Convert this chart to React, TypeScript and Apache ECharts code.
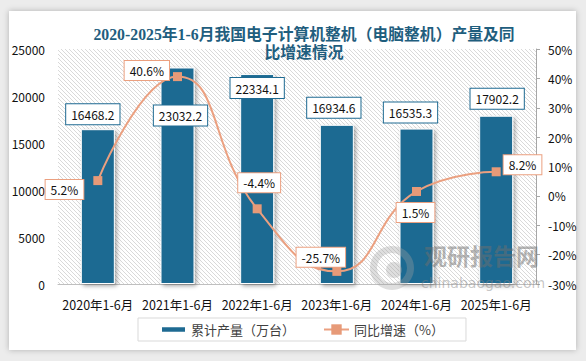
import React, { useEffect, useRef } from "react";
import * as echarts from "echarts";

const categories = ["2020年1-6月", "2021年1-6月", "2022年1-6月", "2023年1-6月", "2024年1-6月", "2025年1-6月"];
const outputValues = [16468.2, 23032.2, 22334.1, 16934.6, 16535.3, 17902.2];
const growthValues = [5.2, 40.6, -4.4, -25.7, 1.5, 8.2];
const leftTicks = { min: 0, max: 25000, interval: 5000 };
const rightTicks = { min: -30, max: 50, interval: 10 };
const seriesNames = ["累计产量（万台）", "同比增速（%）"];
const titleText = "2020-2025年1-6月我国电子计算机整机（电脑整机）产量及同\n比增速情况";

const BAR = "#1E6A92";
const LINE = "#EBA080";
const MARK = "#E79A78";
const FONT = '"Noto Sans CJK SC", "Noto Sans", sans-serif';

// label placement tweaks (style only)
const barLabelPos: any[] = [
  { position: "top", distance: 5, offset: [-5, 0] },
  { position: "insideTop", distance: 38, offset: [3, 0] },
  { position: "insideTop", distance: 4, offset: [0, 0] },
  { position: "top", distance: 7, offset: [-3, 0] },
  { position: "top", distance: 6, offset: [-6, 0] },
  { position: "top", distance: 7, offset: [1, 0] },
];
const lineLabelPos: any[] = [
  { position: "left", distance: 10, offset: [0, 9] },
  { position: "left", distance: 4, offset: [0, -6] },
  { position: "top", distance: 12, offset: [2, 0] },
  { position: "top", distance: 0, offset: [-16, 0] },
  { position: "bottom", distance: 7, offset: [-1, 0] },
  { position: "right", distance: 3, offset: [0, -7] },
];

const hatchSvg =
  "<svg xmlns='http://www.w3.org/2000/svg' width='4' height='4'><path d='M-1,-1 L5,5 M-1,3 L1,5 M3,-1 L5,1' stroke='#cfcfcf' stroke-width='0.8'/></svg>";
const hatchUrl = "data:image/svg+xml;charset=utf-8," + encodeURIComponent(hatchSvg);

export default function App() {
  const ref = useRef<HTMLDivElement>(null);
  useEffect(() => {
    if (!ref.current) return;
    const chart = echarts.init(ref.current, undefined, { renderer: "svg" });
    const option: any = {
      animation: false,
      backgroundColor: "transparent",
      title: {
        text: titleText,
        left: 299,
        textAlign: "center",
        top: 20,
        textStyle: {
          fontSize: 15.8,
          fontWeight: "bold",
          color: "#1F5E7E",
          lineHeight: 18,
          fontFamily: '"Liberation Serif", "Noto Sans CJK SC", serif',
        },
      },
      grid: {
        left: 58,
        right: 50,
        top: 49,
        bottom: 77,
        show: true,
        borderWidth: 0,
        backgroundColor: { image: hatchUrl, repeat: "repeat", imageWidth: 4, imageHeight: 4 },
      },
      legend: {
        left: 138,
        top: 318,
        padding: [5, 22, 5, 22],
        itemGap: 28,
        itemWidth: 25,
        itemHeight: 13,
        borderColor: "#d9d9d9",
        borderWidth: 1,
        textStyle: { fontSize: 13, color: "#404040", fontFamily: FONT },
        data: [
          { name: seriesNames[0], icon: "path://M0 0H23V6H0Z" },
          { name: seriesNames[1] },
        ],
      },
      xAxis: {
        type: "category",
        data: categories,
        axisLine: { show: true, lineStyle: { color: "#bfbfbf" } },
        axisTick: { show: false },
        axisLabel: { interval: 0, margin: 14, fontSize: 12.5, color: "#111", fontFamily: FONT },
      },
      yAxis: [
        {
          type: "value",
          ...leftTicks,
          axisLine: { show: false },
          axisTick: { show: false },
          splitLine: { show: false },
          axisLabel: {
            margin: 13,
            fontSize: 12,
            color: "#111",
            fontFamily: FONT,
            formatter: (v: number) => String(v),
          },
        },
        {
          type: "value",
          ...rightTicks,
          position: "right",
          axisLine: { show: true, lineStyle: { color: "#a6a6a6" } },
          axisTick: { show: true, length: 4, lineStyle: { color: "#a6a6a6" } },
          splitLine: { show: false },
          axisLabel: { margin: 12, fontSize: 12, color: "#111", fontFamily: FONT, formatter: "{value}%" },
        },
      ],
      series: [
        {
          name: seriesNames[0],
          type: "bar",
          yAxisIndex: 0,
          barWidth: 34,
          itemStyle: {
            color: BAR,
            borderColor: "#ffffff",
            borderWidth: 1,
            shadowBlur: 4,
            shadowOffsetX: 2,
            shadowOffsetY: 2,
            shadowColor: "rgba(0,0,0,0.35)",
          },
          data: outputValues.map((v, i) => ({
            value: v,
            label: { ...barLabelPos[i] },
          })),
          label: {
            show: true,
            color: "#111",
            fontSize: 12,
            lineHeight: 14,
            fontFamily: FONT,
            backgroundColor: "#fff",
            borderColor: BAR,
            borderWidth: 1,
            padding: [3, 5],
            formatter: (p: any) => p.value.toFixed(1),
          },
          z: 2,
        },
        {
          name: seriesNames[1],
          type: "line",
          yAxisIndex: 1,
          smooth: true,
          symbol: "rect",
          symbolSize: 9,
          lineStyle: { color: LINE, width: 2 },
          itemStyle: { color: MARK },
          data: growthValues.map((v, i) => ({
            value: v,
            label: { ...lineLabelPos[i] },
          })),
          label: {
            show: true,
            color: "#111",
            fontSize: 12,
            lineHeight: 13,
            fontFamily: FONT,
            backgroundColor: "#fff",
            borderColor: LINE,
            borderWidth: 1,
            padding: [3, 5],
            formatter: (p: any) => p.value.toFixed(1) + "%",
          },
          z: 5,
        },
      ],
      graphic: {
        elements: [
          {
            type: "ring",
            shape: { cx: 392, cy: 268, r: 22, r0: 15 },
            style: { fill: "rgba(160,160,160,0.35)" },
            z: 100,
            silent: true,
          },
          {
            type: "circle",
            shape: { cx: 394, cy: 270, r: 8 },
            style: { fill: "rgba(160,160,160,0.35)" },
            z: 100,
            silent: true,
          },
          {
            type: "text",
            left: 424,
            top: 243,
            z: 100,
            silent: true,
            style: {
              text: "观研报告网",
              fontSize: 23,
              fontWeight: "bold",
              fontFamily: FONT,
              fill: "rgba(110,110,110,0.5)",
            },
          },
          {
            type: "text",
            left: 421,
            top: 276,
            z: 100,
            silent: true,
            style: {
              text: "chinabaogao.com",
              fontSize: 14,
              fontFamily: '"DejaVu Sans", sans-serif',
              fill: "rgba(130,130,130,0.45)",
            },
          },
        ],
      },
    };
    chart.setOption(option);
    return () => chart.dispose();
  }, []);

  return (
    <div style={{ position: "fixed", left: 0, top: 0, width: 586, height: 361, background: "#ececec", overflow: "hidden" }}>
      <div
        style={{
          position: "absolute",
          left: 9,
          top: 11,
          width: 567,
          height: 339,
          background: "#fff",
          boxShadow: "0 0 6px rgba(0,0,0,0.25)",
        }}
      />
      <div ref={ref} style={{ position: "absolute", left: 0, top: 0, width: 586, height: 361 }} />
    </div>
  );
}
